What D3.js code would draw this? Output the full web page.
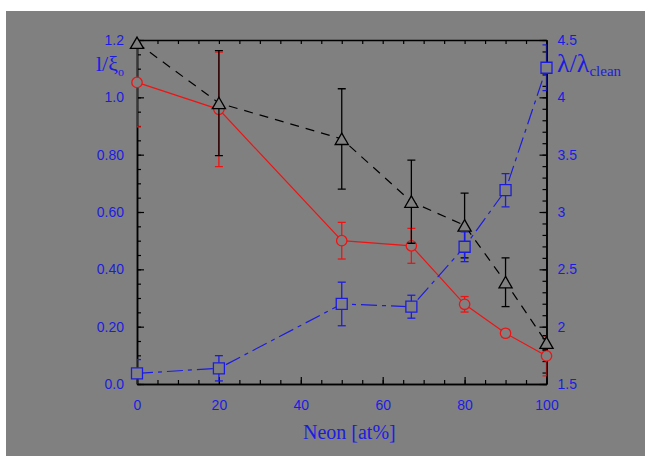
<!DOCTYPE html>
<html>
<head>
<meta charset="utf-8">
<script src="https://cdn.jsdelivr.net/npm/d3@7/dist/d3.min.js"></script>
<style>
  html, body { margin: 0; padding: 0; background: #ffffff; }
  svg { display: block; }
</style>
</head>
<body>
<svg id="chart" width="645" height="456"></svg>
<script>
// Neon concentration (at%)
const neon = [0, 20, 50, 67, 80, 90, 100];

// l/xi0 estimates (left axis), triangles
const triVals = [1.19, 0.98, 0.855, 0.636, 0.553, 0.355, 0.144];
const triErr  = [0, 0.183, 0.175, 0.145, 0.113, 0.085, 0.025];

// l/xi0 estimates (left axis), circles
const circVals = [1.052, 0.958, 0.50, 0.482, 0.278, 0.177, 0.098];
const circErr  = [0.155, 0.20, 0.064, 0.061, 0.027, 0.012, 0.07];

// lambda / lambda_clean (right axis), squares
const sqVals = [1.593, 1.637, 2.198, 2.174, 2.697, 3.19, 4.258];
const sqErr  = [0.12, 0.11, 0.19, 0.10, 0.13, 0.145, 0.2];

// tick labels
const xTickVals = [0, 20, 40, 60, 80, 100];
const yLeftTicks = [0, 0.2, 0.4, 0.6, 0.8, 1.0, 1.2];
const yLeftLabels = ["0.0", "0.20", "0.40", "0.60", "0.80", "1.0", "1.2"];
const yRightTicks = [1.5, 2, 2.5, 3, 3.5, 4, 4.5];
const yRightLabels = ["1.5", "2", "2.5", "3", "3.5", "4", "4.5"];

const BG = "#808080";
const BLUE = "#1c1ce0";
const RED = "#ee1414";

const svg = d3.select("#chart");
svg.append("rect").attr("x", 6).attr("y", 11).attr("width", 639).attr("height", 445).attr("fill", BG);

const L = 137, R = 546.5, T = 40, B = 384;
const x = d3.scaleLinear().domain([0, 100]).range([L, R]);
const yL = d3.scaleLinear().domain([0, 1.2]).range([B, T]);
const yR = d3.scaleLinear().domain([1.5, 4.5]).range([B, T]);

svg.append("defs").append("clipPath").attr("id", "plotclip")
  .append("rect").attr("x", L).attr("y", T).attr("width", R - L).attr("height", B - T);

const plot = svg.append("g");

function series(vals, errs, yScale, color, dash, shape) {
  const g = plot.append("g");
  // error bars (kept inside the frame)
  const eb = g.append("g").attr("clip-path", "url(#plotclip)")
    .selectAll("g.eb").data(neon.map((n, i) => ({ n, v: vals[i], e: errs[i] })).filter(d => d.e > 0))
    .join("g").attr("stroke", color).attr("stroke-width", 1.3);
  eb.append("line").attr("x1", d => x(d.n)).attr("x2", d => x(d.n))
    .attr("y1", d => yScale(d.v - d.e)).attr("y2", d => yScale(d.v + d.e));
  eb.append("line").attr("x1", d => x(d.n) - 4).attr("x2", d => x(d.n) + 4)
    .attr("y1", d => yScale(d.v - d.e)).attr("y2", d => yScale(d.v - d.e));
  eb.append("line").attr("x1", d => x(d.n) - 4).attr("x2", d => x(d.n) + 4)
    .attr("y1", d => yScale(d.v + d.e)).attr("y2", d => yScale(d.v + d.e));
  // connecting line
  const line = d3.line().x((d, i) => x(neon[i])).y(d => yScale(d));
  g.append("path").attr("d", line(vals)).attr("fill", "none").attr("stroke", color)
    .attr("stroke-width", 1.2).attr("stroke-dasharray", dash);
  // markers
  const sym = d3.symbol().type(shape.type).size(shape.size);
  g.selectAll("path.m").data(vals).join("path").attr("class", "m")
    .attr("transform", (d, i) => `translate(${x(neon[i])},${yScale(d) + (shape.dy || 0)})`)
    .attr("d", sym).attr("fill", BG).attr("stroke", color).attr("stroke-width", 1.3);
}

series(circVals, circErr, yL, RED, null, { type: d3.symbolCircle, size: 85 });
series(triVals, triErr, yL, "#000000", "9,7", { type: d3.symbolTriangle, size: 75, dy: 1.8 });
series(sqVals, sqErr, yR, BLUE, "16,5,4,5", { type: d3.symbolSquare, size: 121 });

// frame and ticks
const axisStyle = g => {
  g.select(".domain").attr("stroke", "#000").attr("stroke-width", 1.5);
  g.selectAll(".tick line").attr("stroke", "#000").attr("stroke-width", 1.2);
  g.selectAll("text").attr("fill", BLUE).attr("font-family", "Liberation Sans, Arial, sans-serif").attr("font-size", 14);
};

// bottom
svg.append("g").attr("transform", `translate(0,${B})`)
  .call(d3.axisBottom(x).tickValues(d3.range(0, 101, 5)).tickSize(-4).tickFormat("").tickSizeOuter(0)).call(axisStyle);
svg.append("g").attr("transform", `translate(0,${B})`)
  .call(d3.axisBottom(x).tickValues(xTickVals).tickSize(-7).tickPadding(16).tickSizeOuter(0)).call(axisStyle);
// top
svg.append("g").attr("transform", `translate(0,${T})`)
  .call(d3.axisTop(x).tickValues(d3.range(0, 101, 5)).tickSize(-4).tickFormat("").tickSizeOuter(0)).call(axisStyle);
// left
svg.append("g").attr("transform", `translate(${L},0)`)
  .call(d3.axisLeft(yL).tickValues(d3.range(0, 1.2001, 0.05)).tickSize(-4).tickFormat("").tickSizeOuter(0)).call(axisStyle);
svg.append("g").attr("transform", `translate(${L},0)`)
  .call(d3.axisLeft(yL).tickValues(yLeftTicks).tickSize(-7).tickPadding(13)
    .tickFormat((d, i) => yLeftLabels[i]).tickSizeOuter(0)).call(axisStyle);
// right
svg.append("g").attr("transform", `translate(${R},0)`)
  .call(d3.axisRight(yR).tickValues(d3.range(1.5, 4.5001, 0.1)).tickSize(-4).tickFormat("").tickSizeOuter(0)).call(axisStyle);
svg.append("g").attr("transform", `translate(${R},0)`)
  .call(d3.axisRight(yR).tickValues(yRightTicks).tickSize(-7).tickPadding(11)
    .tickFormat((d, i) => yRightLabels[i]).tickSizeOuter(0)).call(axisStyle);

// markers sit above the frame lines
plot.raise();

// axis titles
const serif = "Liberation Serif, Times New Roman, serif";
svg.append("text").attr("x", 303).attr("y", 439).attr("fill", BLUE)
  .attr("font-family", serif).attr("font-size", 20).text("Neon [at%]");

const yt = svg.append("text").attr("x", 96).attr("y", 71).attr("fill", BLUE).attr("font-family", serif).attr("font-size", 22);
yt.append("tspan").text("l/ξ");
yt.append("tspan").attr("font-size", 12).attr("dy", 5).text("o");

const rt = svg.append("text").attr("x", 557).attr("y", 72).attr("fill", BLUE).attr("font-family", serif).attr("font-size", 26);
rt.append("tspan").text("λ/λ");
rt.append("tspan").attr("font-size", 15).attr("dy", 4).text("clean");
</script>
</body>
</html>
